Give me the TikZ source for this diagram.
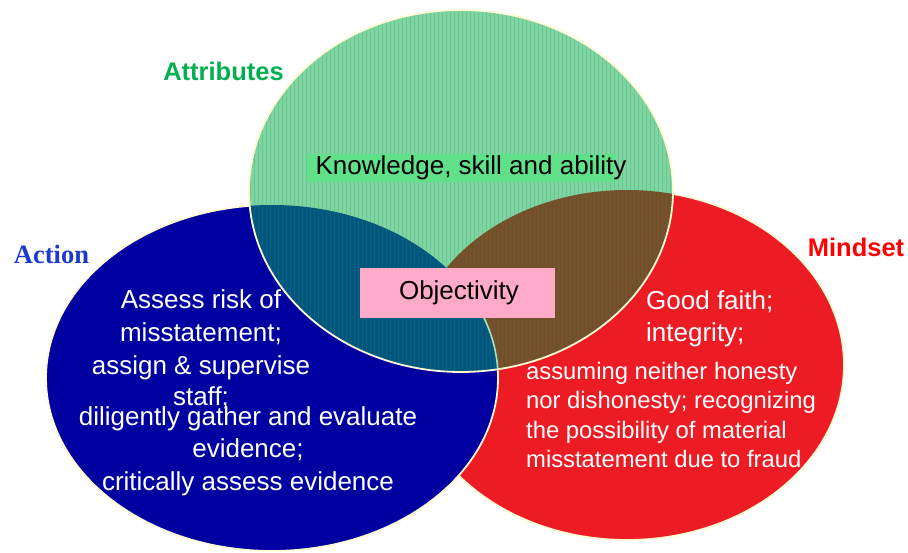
\documentclass[tikz,border=0pt]{standalone}
\usepackage{fontspec}
\setmainfont{Liberation Sans}
\newfontfamily\serifface{Liberation Serif}
\definecolor{cgreen}{RGB}{126,213,162}
\definecolor{cgreenband}{RGB}{96,224,136}
\definecolor{cblue}{RGB}{0,0,160}
\definecolor{cred}{RGB}{237,28,36}
\definecolor{cteal}{RGB}{0,86,128}
\definecolor{cbrown}{RGB}{120,78,42}
\definecolor{cpink}{RGB}{255,170,200}
\definecolor{cedge}{RGB}{255,250,212}
\definecolor{cstripe}{RGB}{40,150,80}
\definecolor{cattr}{RGB}{0,176,80}
\definecolor{caction}{RGB}{28,58,205}
\definecolor{cmind}{RGB}{255,0,0}
\tikzset{
  edge/.style={draw=cedge, line width=1.8pt},
  bigtxt/.style={font=\fontsize{26}{30}\selectfont, inner sep=0pt, anchor=base},
  smalltxt/.style={font=\fontsize{23.8}{28}\selectfont, inner sep=0pt, anchor=base west, text=white},
  headtxt/.style={font=\bfseries\fontsize{25.5}{30}\selectfont, inner sep=0pt, anchor=base},
  stripe/.style={draw=cstripe, opacity=0.22, line width=0.7pt}
}
\begin{document}
\begin{tikzpicture}[x=1pt,y=-1pt]
\useasboundingbox (0,0) rectangle (908,553);
% red ellipse
\fill[cred] (627,365) ellipse [x radius=217, y radius=175];
\draw[edge] (627,365) ellipse [x radius=217, y radius=175];
% blue ellipse
\fill[cblue] (272,378) ellipse [x radius=226, y radius=173];
\draw[edge] (272,378) ellipse [x radius=226, y radius=173];
% green ellipse
\fill[cgreen] (461,191) ellipse [x radius=212, y radius=181];
\begin{scope}
  \clip (461,191) ellipse [x radius=212, y radius=181];
  \fill[cbrown] (627,365) ellipse [x radius=217, y radius=175];
  \fill[cteal] (272,378) ellipse [x radius=226, y radius=173];
  \foreach \x in {250,254,...,674} \draw[stripe] (\x,8) -- (\x,374);
  \begin{scope}
    \clip (627,365) ellipse [x radius=217, y radius=175];
    \draw[draw=cgreen!70!white, line width=1.6pt] (272,378) ellipse [x radius=226, y radius=173];
  \end{scope}
\end{scope}
\draw[edge] (461,191) ellipse [x radius=212, y radius=181];
% knowledge band
\fill[cgreenband] (307,154) rectangle (615,182);
\node[bigtxt] (know) at (471,175) {Knowledge, skill and ability};
% objectivity box
\node[fill=cpink, minimum width=195pt, minimum height=50pt, inner sep=0pt] (objbox) at (457.5,293) {};
\node[bigtxt] (obj) at (459,300) {Objectivity};
% headings
\node[headtxt, text=cattr] (attr) at (223.5,81) {Attributes};
\node[headtxt, text=cmind] (mind) at (856,257) {Mindset};
\node[headtxt, text=caction, font=\serifface\bfseries\fontsize{26.5}{30}\selectfont] (act) at (51.5,264) {Action};
% blue text
\node[bigtxt, text=white] (b1) at (201,309) {Assess risk of};
\node[bigtxt, text=white] (b2) at (201,342) {misstatement;};
\node[bigtxt, text=white] (b3) at (201,374.5) {assign \& supervise};
\node[bigtxt, text=white] (b4) at (201,406) {staff;};
\node[bigtxt, text=white] (b5) at (248,425) {diligently gather and evaluate};
\node[bigtxt, text=white] (b6) at (248,457.5) {evidence;};
\node[bigtxt, text=white] (b7) at (248,490) {critically assess evidence};
% red text
\node[bigtxt, anchor=base west, text=white] (r1) at (646,310) {Good faith;};
\node[bigtxt, anchor=base west, text=white] (r2) at (646,342) {integrity;};
\node[smalltxt] (r3) at (526,380) {assuming neither honesty};
\node[smalltxt] (r4) at (526,409) {nor dishonesty; recognizing};
\node[smalltxt] (r5) at (526,438.5) {the possibility of material};
\node[smalltxt] (r6) at (526,467) {misstatement due to fraud};
\end{tikzpicture}
\end{document}
